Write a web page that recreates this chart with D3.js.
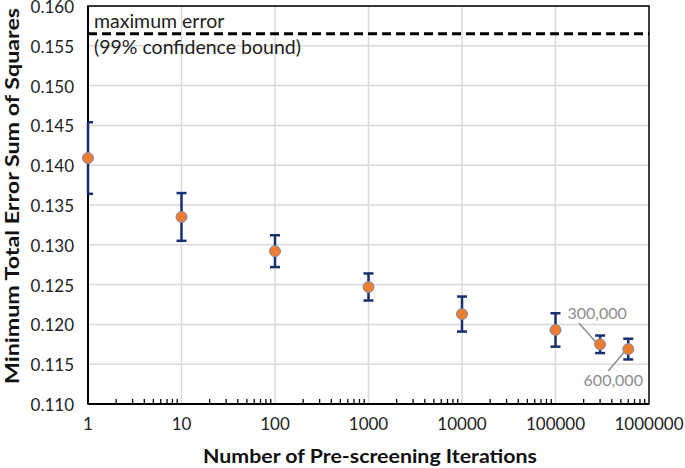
<!DOCTYPE html>
<html><head><meta charset="utf-8">
<script src="https://cdn.jsdelivr.net/npm/d3@7"></script>
<style>body{margin:0;background:#fff}svg{display:block}text{font-family:Lato,"Open Sans",sans-serif}</style>
</head><body>
<svg id="c" width="685" height="468"></svg>
<script>
const iterations = [1, 10, 100, 1000, 10000, 100000, 300000, 600000];
const sse = [0.1409, 0.1335, 0.1292, 0.1247, 0.1213, 0.1193, 0.1175, 0.1169];
const errPlus = [0.0045, 0.0030, 0.0020, 0.0017, 0.0022, 0.0021, 0.0011, 0.0013];
const maxError = 0.1565;
const yTicks = [0.110, 0.115, 0.120, 0.125, 0.130, 0.135, 0.140, 0.145, 0.150, 0.155, 0.160];
const xTicks = [1, 10, 100, 1000, 10000, 100000, 1000000];
const labels = [{i: 6, text: "300,000"}, {i: 7, text: "600,000"}];

const svg = d3.select("#c");
const L = 88, R = 649, T = 6, B = 404;
const x = d3.scaleLog().domain([1, 1000000]).range([L, R]);
const y = d3.scaleLinear().domain([0.110, 0.160]).range([B, T]);

// gridlines
svg.append("g").selectAll("line").data(yTicks).join("line")
  .attr("x1", L).attr("x2", R).attr("y1", d => y(d)).attr("y2", d => y(d))
  .attr("stroke", "#d9d9d9").attr("stroke-width", 1.5);
svg.append("g").selectAll("line").data(xTicks.slice(1, -1)).join("line")
  .attr("x1", d => x(d)).attr("x2", d => x(d)).attr("y1", T).attr("y2", B)
  .attr("stroke", "#d9d9d9").attr("stroke-width", 1.5);

// minor ticks
const minor = [];
for (let e = 0; e < 6; e++) for (let m = 2; m <= 9; m++) minor.push(m * Math.pow(10, e));
svg.append("g").selectAll("line").data(minor).join("line")
  .attr("x1", d => x(d)).attr("x2", d => x(d)).attr("y1", B).attr("y2", B - 5)
  .attr("stroke", "#000").attr("stroke-width", 1.3);

// frame
svg.append("rect").attr("x", L).attr("y", T).attr("width", R - L).attr("height", B - T)
  .attr("fill", "none").attr("stroke", "#000").attr("stroke-width", 1.5);
svg.append("line").attr("x1", L).attr("x2", L).attr("y1", T).attr("y2", B).attr("stroke", "#000").attr("stroke-width", 2);
svg.append("line").attr("x1", L).attr("x2", R).attr("y1", B).attr("y2", B).attr("stroke", "#000").attr("stroke-width", 2);

// axes labels
svg.append("g").selectAll("text").data(yTicks).join("text")
  .attr("x", 74).attr("y", d => y(d) + 1).attr("dy", "0.35em").attr("text-anchor", "end")
  .attr("font-size", 17).attr("fill", "#222").text(d => d.toFixed(3));
svg.append("g").selectAll("text").data(xTicks).join("text")
  .attr("x", d => x(d)).attr("y", 424).attr("dy", "0.35em").attr("text-anchor", "middle")
  .attr("font-size", 17).attr("fill", "#222").text(d => String(d));

svg.append("text").attr("x", 370).attr("y", 456).attr("dy", "0.35em").attr("text-anchor", "middle")
  .attr("font-size", 19.5).attr("font-weight", "bold").attr("fill", "#111")
  .attr("textLength", 334).attr("lengthAdjust", "spacingAndGlyphs")
  .text("Number of Pre-screening Iterations");
svg.append("text").attr("transform", `translate(12,196) rotate(-90)`).attr("dy", "0.35em")
  .attr("text-anchor", "middle").attr("font-size", 19.5).attr("font-weight", "bold").attr("fill", "#111")
  .attr("textLength", 376).attr("lengthAdjust", "spacingAndGlyphs")
  .text("Minimum Total Error Sum of Squares");

// max error line
svg.append("line").attr("x1", L).attr("x2", R).attr("y1", y(maxError)).attr("y2", y(maxError))
  .attr("stroke", "#000").attr("stroke-width", 3).attr("stroke-dasharray", "9,5");
svg.append("text").attr("x", 94).attr("y", y(maxError) - 13).attr("dy", "0.35em")
  .attr("font-size", 19.5).attr("fill", "#222").text("maximum error");
svg.append("text").attr("x", 94).attr("y", y(maxError) + 13).attr("dy", "0.35em")
  .attr("font-size", 19.5).attr("fill", "#222").text("(99% confidence bound)");

// error bars
const eb = svg.append("g").attr("stroke", "#1a2f6e").attr("stroke-width", 2.5);
iterations.forEach((it, i) => {
  const cx = x(it);
  eb.append("line").attr("x1", cx).attr("x2", cx).attr("y1", y(sse[i] + errPlus[i])).attr("y2", y(sse[i] - errPlus[i]));
  [sse[i] + errPlus[i], sse[i] - errPlus[i]].forEach(v => {
    eb.append("line").attr("x1", cx - (i === 0 ? 0 : 5)).attr("x2", cx + 5).attr("y1", y(v)).attr("y2", y(v));
  });
});

// points
svg.append("g").selectAll("circle").data(iterations).join("circle")
  .attr("cx", d => x(d)).attr("cy", (d, i) => y(sse[i])).attr("r", 5.5)
  .attr("fill", "#ED7D31").attr("stroke", "#7f8aa8").attr("stroke-width", 1);

// annotations
const a1 = labels[0], a2 = labels[1];
let px = x(iterations[a1.i]), py = y(sse[a1.i]);
svg.append("line").attr("x1", px - 21).attr("y1", py - 21).attr("x2", px - 5).attr("y2", py - 3)
  .attr("stroke", "#8c8c8c").attr("stroke-width", 1.5);
svg.append("text").attr("x", px - 3).attr("y", py - 31).attr("dy", "0.35em").attr("text-anchor", "middle")
  .attr("font-size", 16).attr("fill", "#8c8c8c").text(a1.text);
px = x(iterations[a2.i]); py = y(sse[a2.i]);
svg.append("line").attr("x1", px - 20).attr("y1", py + 22).attr("x2", px - 4).attr("y2", py + 3)
  .attr("stroke", "#8c8c8c").attr("stroke-width", 1.5);
svg.append("text").attr("x", px - 15).attr("y", py + 31).attr("dy", "0.35em").attr("text-anchor", "middle")
  .attr("font-size", 16).attr("fill", "#8c8c8c").text(a2.text);
</script>
</body></html>
